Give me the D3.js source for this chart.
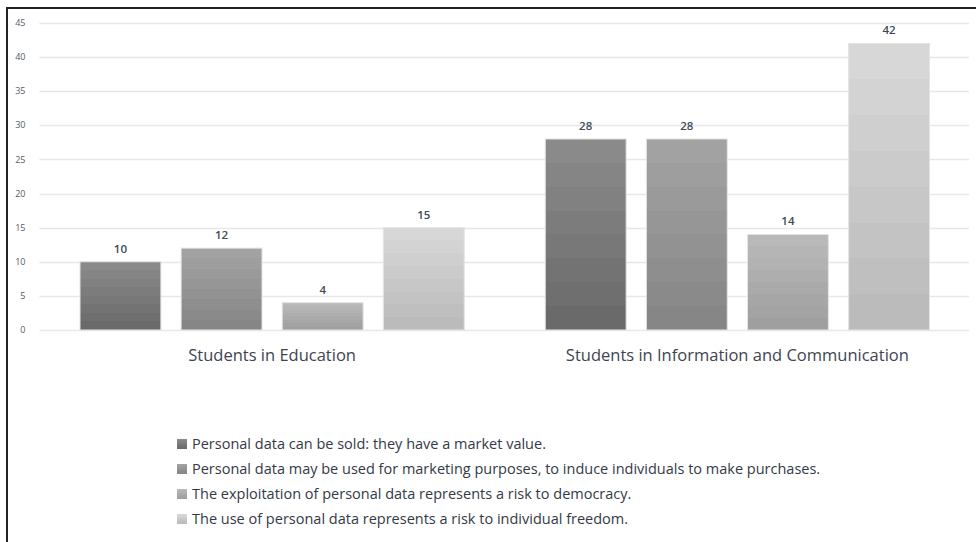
<!DOCTYPE html>
<html>
<head>
<meta charset="utf-8">
<script src="https://cdn.jsdelivr.net/npm/d3@7"></script>
<style>
  body { margin: 0; background: #fff; }
  svg { display: block; font-family: "Open Sans", Lato, sans-serif; }
</style>
</head>
<body>
<div class="chart"></div>
<script>

const FRAME_WIDTH = 976;
const FRAME_HEIGHT = 542;
const MARGINS = {left: 39.5, right: 6, top: 23, bottom: 212};

// data
const groups = ["Students in Education", "Students in Information and Communication"];
const series = [
    "Personal data can be sold: they have a market value.",
    "Personal data may be used for marketing purposes, to induce individuals to make purchases.",
    "The exploitation of personal data represents a risk to democracy.",
    "The use of personal data represents a risk to individual freedom."
];
const soldValues = [10, 28];
const marketingValues = [12, 28];
const democracyValues = [4, 14];
const freedomValues = [15, 42];
const yTicks = [0, 5, 10, 15, 20, 25, 30, 35, 40, 45];

const seriesValues = [soldValues, marketingValues, democracyValues, freedomValues];
// top / bottom shade of each bar
const SHADES = [["#8a8a8a", "#6a6a6a"], ["#a2a2a2", "#868686"], ["#b9b9b9", "#9f9f9f"], ["#d7d7d7", "#bbbbbb"]];

const PLOT_W = FRAME_WIDTH - MARGINS.left - MARGINS.right;
const PLOT_H = FRAME_HEIGHT - MARGINS.top - MARGINS.bottom;

const FRAME = d3.select(".chart")
    .append("svg")
    .attr("width", FRAME_WIDTH)
    .attr("height", FRAME_HEIGHT);

// outer frame (right and bottom edges fall off the picture)
FRAME.append("rect")
    .attr("x", 7).attr("y", 8)
    .attr("width", FRAME_WIDTH + 20).attr("height", FRAME_HEIGHT + 20)
    .attr("fill", "none")
    .attr("stroke", "#222")
    .attr("stroke-width", 2);

// gradients, banded like the original
const defs = FRAME.append("defs");
SHADES.forEach((s, i) => {
    const g = defs.append("linearGradient")
        .attr("id", "grad" + i)
        .attr("x1", 0).attr("y1", 0).attr("x2", 0).attr("y2", 1);
    const bands = 8;
    const c = d3.interpolateRgb(s[0], s[1]);
    for (let b = 0; b < bands; b++) {
        g.append("stop").attr("offset", b / bands).attr("stop-color", c(b / (bands - 1)));
        g.append("stop").attr("offset", (b + 1) / bands).attr("stop-color", c(b / (bands - 1)));
    }
});

const X_SCALE = d3.scaleBand()
    .domain(groups)
    .range([0, PLOT_W])
    .paddingInner(0)
    .paddingOuter(0);

const X_INNER = d3.scaleBand()
    .domain(d3.range(series.length))
    .range([40.5, X_SCALE.bandwidth() - 40.5])
    .paddingInner(0.2)
    .paddingOuter(0);

const Y_SCALE = d3.scaleLinear()
    .domain([0, 45])
    .range([PLOT_H, 0]);

const PLOT = FRAME.append("g")
    .attr("transform", "translate(" + MARGINS.left + "," + MARGINS.top + ")");

// gridlines
PLOT.append("g")
    .selectAll("line")
    .data(yTicks)
    .enter().append("line")
    .attr("x1", 0).attr("x2", PLOT_W - 1)
    .attr("y1", (d) => Math.round(Y_SCALE(d)) + 0.5)
    .attr("y2", (d) => Math.round(Y_SCALE(d)) + 0.5)
    .attr("stroke", "#e6e8ec")
    .attr("stroke-width", 1.5);

// y tick labels
PLOT.append("g")
    .selectAll("text")
    .data(yTicks)
    .enter().append("text")
    .attr("x", -14)
    .attr("y", (d) => Y_SCALE(d))
    .attr("dy", "0.35em")
    .attr("text-anchor", "end")
    .attr("font-size", "9px")
    .attr("fill", "#555b66")
    .text((d) => d);

// bars
const G = PLOT.selectAll(".group")
    .data(groups)
    .enter().append("g")
    .attr("transform", (d) => "translate(" + X_SCALE(d) + ",0)");

G.selectAll("rect")
    .data((d, gi) => seriesValues.map((vals, si) => ({si: si, v: vals[gi]})))
    .enter().append("rect")
    .attr("x", (d) => X_INNER(d.si))
    .attr("y", (d) => Y_SCALE(d.v))
    .attr("width", X_INNER.bandwidth())
    .attr("height", (d) => PLOT_H - Y_SCALE(d.v))
    .attr("fill", (d) => "url(#grad" + d.si + ")")
    .attr("stroke", "#e4e4e4")
    .attr("stroke-width", 1);

G.selectAll("text")
    .data((d, gi) => seriesValues.map((vals, si) => ({si: si, v: vals[gi]})))
    .enter().append("text")
    .attr("x", (d) => X_INNER(d.si) + X_INNER.bandwidth() / 2)
    .attr("y", (d) => Y_SCALE(d.v) - 9)
    .attr("text-anchor", "middle")
    .attr("font-size", "11.5px")
    .attr("font-weight", "600")
    .attr("fill", "#404857")
    .text((d) => d.v);

// category labels
PLOT.append("g")
    .selectAll("text")
    .data(groups)
    .enter().append("text")
    .attr("x", (d) => X_SCALE(d) + X_SCALE.bandwidth() / 2)
    .attr("y", PLOT_H + 31)
    .attr("text-anchor", "middle")
    .attr("font-size", "16.5px")
    .attr("fill", "#3e4452")
    .text((d) => d);

// legend
const LEGEND = FRAME.append("g")
    .attr("transform", "translate(177,444)");

const ITEMS = LEGEND.selectAll("g")
    .data(series)
    .enter().append("g")
    .attr("transform", (d, i) => "translate(0," + (i * 25) + ")");

ITEMS.append("rect")
    .attr("x", 0).attr("y", -5)
    .attr("width", 10).attr("height", 10)
    .attr("fill", (d, i) => "url(#grad" + i + ")");

ITEMS.append("text")
    .attr("x", 15)
    .attr("y", 0)
    .attr("dy", "0.35em")
    .attr("font-size", "14.5px")
    .attr("fill", "#333a46")
    .text((d) => d);

</script>
</body>
</html>
